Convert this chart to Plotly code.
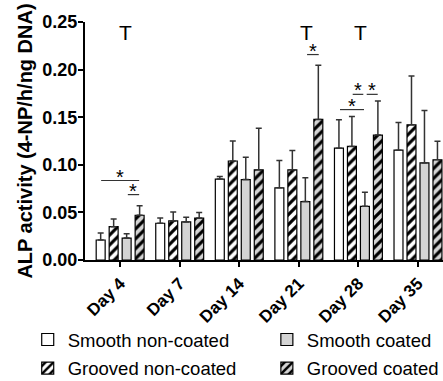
import plotly.graph_objects as go

days = ["Day 4", "Day 7", "Day 14", "Day 21", "Day 28", "Day 35"]

smooth_nc = [0.021, 0.0386, 0.085, 0.0758, 0.1175, 0.1154]
smooth_nc_top = [0.0284, 0.044, 0.0877, 0.1045, 0.1474, 0.1445]
grooved_nc = [0.035, 0.041, 0.104, 0.0947, 0.1193, 0.142]
grooved_nc_top = [0.043, 0.0505, 0.125, 0.115, 0.1508, 0.1933]
smooth_c = [0.023, 0.040, 0.0845, 0.0614, 0.0564, 0.102]
smooth_c_top = [0.0277, 0.045, 0.108, 0.0863, 0.0712, 0.157]
grooved_c = [0.047, 0.044, 0.0947, 0.1477, 0.1312, 0.1053]
grooved_c_top = [0.057, 0.050, 0.1385, 0.2045, 0.167, 0.1248]

# "T" markers (x position in category units, y value)
t_x = [0.084, 3.12, 4.04]
t_y = [0.239, 0.239, 0.239]

# significance brackets: (x0, x1, y)
sig_x0 = [-0.319, 0.129, 3.138, 3.691, 3.904, 4.139]
sig_x1 = [0.319, 0.319, 3.334, 4.094, 4.082, 4.324]
sig_y = [0.0835, 0.0687, 0.2158, 0.158, 0.174, 0.174]

FONT = "Liberation Sans, Arial, sans-serif"
GREY = "#d4d4d4"

series = [
    ("Smooth non-coated", smooth_nc, smooth_nc_top, "white", "", "legend"),
    ("Grooved non-coated", grooved_nc, grooved_nc_top, "white", "/", "legend3"),
    ("Smooth coated", smooth_c, smooth_c_top, GREY, "", "legend2"),
    ("Grooved coated", grooved_c, grooved_c_top, GREY, "/", "legend4"),
]

fig = go.Figure()
for name, vals, tops, col, shape, leg in series:
    fig.add_trace(go.Bar(
        name=name, x=days, y=vals,
        legend=leg,
        marker=dict(
            color=col,
            line=dict(color="black", width=1.2),
            pattern=dict(shape=shape, fgcolor="black", bgcolor=col,
                         size=7, solidity=0.45, fillmode="overlay",
                         fgopacity=1),
        ),
        error_y=dict(type="data", symmetric=False,
                     array=[t - v for t, v in zip(tops, vals)],
                     arrayminus=[0] * len(vals),
                     color="#333333", thickness=1.5, width=3),
    ))

for x0, x1, y in zip(sig_x0, sig_x1, sig_y):
    fig.add_shape(type="line", xref="x", yref="y", x0=x0, x1=x1, y0=y, y1=y,
                  line=dict(color="#333333", width=1.2))
    fig.add_annotation(x=(x0 + x1) / 2, y=y, xref="x", yref="y", text="*",
                       showarrow=False, yanchor="bottom", yshift=-9,
                       font=dict(family=FONT, size=20, color="black"))

for x, y in zip(t_x, t_y):
    fig.add_annotation(x=x, y=y, xref="x", yref="y", text="T", showarrow=False,
                       font=dict(family=FONT, size=21, color="black"))

legend_common = dict(orientation="h", xanchor="left", yanchor="middle",
                     font=dict(family=FONT, size=18.5, color="black"),
                     bgcolor="rgba(0,0,0,0)")
fig.update_layout(
    width=443, height=381,
    margin=dict(l=85, r=0, t=22, b=121, autoexpand=False),
    paper_bgcolor="white", plot_bgcolor="white",
    barmode="group", bargap=0.128, bargroupgap=0.31,
    showlegend=True,
    legend=dict(x=-0.16, y=-0.336, **legend_common),
    legend2=dict(x=0.508, y=-0.336, **legend_common),
    legend3=dict(x=-0.16, y=-0.456, **legend_common),
    legend4=dict(x=0.508, y=-0.456, **legend_common),
    font=dict(family=FONT, color="black"),
    xaxis=dict(
        type="category", range=[-0.59, 5.42], automargin=False,
        showline=True, linecolor="black", linewidth=2,
        ticks="outside", ticklen=5, tickwidth=2, tickcolor="black",
        tickangle=-45, showgrid=False,
        tickfont=dict(family=FONT, size=17, color="black", weight="bold"),
    ),
    yaxis=dict(
        range=[0, 0.25], dtick=0.05, tickformat=".2f", automargin=False,
        showline=True, linecolor="black", linewidth=2,
        ticks="outside", ticklen=5, tickwidth=2, tickcolor="black",
        ticklabelstandoff=-3,
        showgrid=False, zeroline=False,
        tickfont=dict(family=FONT, size=18, color="black", weight="bold"),
        title=dict(text="ALP activity (4-NP/h/ng DNA)", standoff=4,
                   font=dict(family=FONT, size=20, color="black", weight="bold")),
    ),
)

fig.write_html("out.html", config={"displayModeBar": False},
               post_script="document.body.style.margin='0';")
